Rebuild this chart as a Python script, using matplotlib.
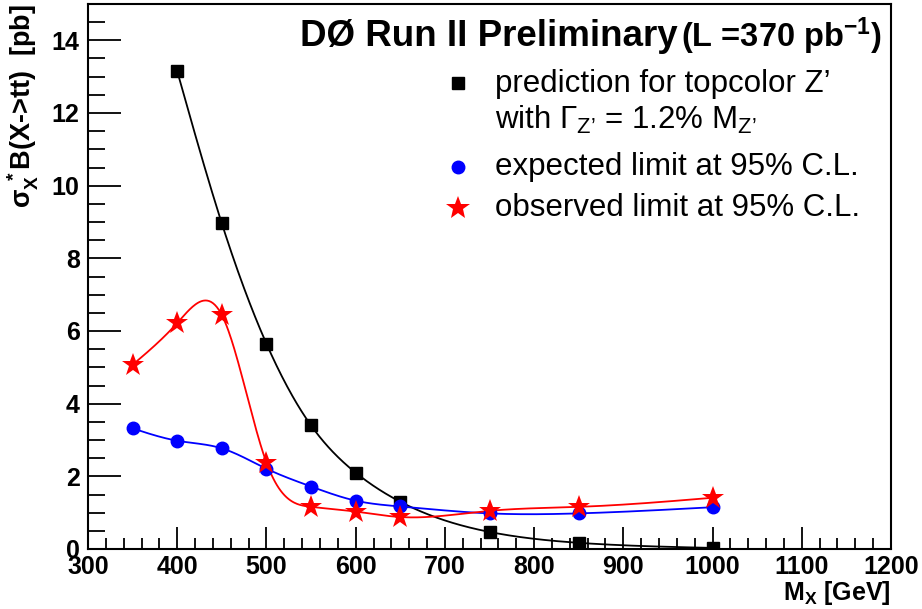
import numpy as np
import matplotlib
matplotlib.use('Agg')
import matplotlib.pyplot as plt
from matplotlib.ticker import MultipleLocator

plt.rcParams['font.family'] = ['Liberation Sans', 'DejaVu Sans']
plt.rcParams['mathtext.fontset'] = 'custom'
plt.rcParams['mathtext.rm'] = 'Liberation Sans'
plt.rcParams['mathtext.it'] = 'Liberation Sans'
plt.rcParams['mathtext.bf'] = 'Liberation Sans:bold'

# data
mass_pred = [400, 450, 500, 550, 600, 650, 750, 850, 1000]
xsec_pred = [13.15, 8.96, 5.65, 3.40, 2.10, 1.30, 0.47, 0.17, 0.03]

mass_lim = [350, 400, 450, 500, 550, 600, 650, 750, 850, 1000]
xsec_exp = [3.32, 2.98, 2.77, 2.21, 1.72, 1.33, 1.17, 0.98, 0.98, 1.15]
xsec_obs = [5.07, 6.22, 6.44, 2.38, 1.16, 1.03, 0.88, 1.05, 1.16, 1.41]

x_label_string = r'M$_{\mathregular{X}}$ [GeV]'
y_label_string = r'$\mathregular{\sigma_X^{\ *}}$B(X->tt)  [pb]'

#natural cubic spline, used to draw the smooth curve through the points
def natural_spline(t, y, tt):
    t = np.array(t, float); y = np.array(y, float)
    n = len(t)
    h = np.diff(t)
    A = np.zeros((n, n))
    b = np.zeros(n)
    A[0, 0] = 1
    A[-1, -1] = 1
    for i in range(1, n-1):
        A[i, i-1] = h[i-1]
        A[i, i] = 2*(h[i-1] + h[i])
        A[i, i+1] = h[i]
        b[i] = 6*((y[i+1]-y[i])/h[i] - (y[i]-y[i-1])/h[i-1])
    M = np.linalg.solve(A, b)
    idx = np.clip(np.searchsorted(t, tt) - 1, 0, n-2)
    t0 = t[idx]; t1 = t[idx+1]; hh = t1 - t0
    a = (t1 - tt)/hh
    c = (tt - t0)/hh
    return (a*y[idx] + c*y[idx+1]
            + ((a**3 - a)*M[idx] + (c**3 - c)*M[idx+1])*hh**2/6)

def smooth_curve(x, y, num=600):
    xs = np.linspace(min(x), max(x), num)
    return xs, natural_spline(x, y, xs)

fig = plt.figure(figsize=(9.22, 6.09), dpi=100)
ax = fig.add_axes([88/922, 60/609, 803/922, 545/609])

xs, ys = smooth_curve(mass_pred, xsec_pred)
ax.plot(xs, ys, '-', color='k', lw=1.3, zorder=2)
xs, ys = smooth_curve(mass_lim, xsec_exp)
ax.plot(xs, ys, '-', color='b', lw=1.3, zorder=2)
xs, ys = smooth_curve(mass_lim, xsec_obs)
ax.plot(xs, ys, '-', color='r', lw=1.3, zorder=2)

ax.plot(mass_pred, xsec_pred, 's', color='k', ms=9, ls='none', zorder=3)
ax.plot(mass_lim, xsec_exp, 'o', color='b', ms=9, ls='none', zorder=3)
ax.plot(mass_lim, xsec_obs, '*', color='r', ms=17, ls='none', mew=0, zorder=4)

ax.set_xlim(300, 1200)
ax.set_ylim(0, 15)
ax.xaxis.set_major_locator(MultipleLocator(100))
ax.xaxis.set_minor_locator(MultipleLocator(20))
ax.yaxis.set_major_locator(MultipleLocator(2))
ax.yaxis.set_minor_locator(MultipleLocator(0.5))
ax.tick_params(axis='both', which='both', direction='in', top=False, right=False,
               width=1.3, labelsize=18)
ax.tick_params(axis='x', which='major', length=16, pad=4)
ax.tick_params(axis='x', which='minor', length=8)
ax.tick_params(axis='y', which='major', length=24, pad=6)
ax.tick_params(axis='y', which='minor', length=12)
for lab in ax.get_xticklabels() + ax.get_yticklabels():
    lab.set_fontweight('bold')
for sp in ax.spines.values():
    sp.set_linewidth(1.5)

ax.set_xlabel(x_label_string, fontsize=18, fontweight='bold', loc='right', labelpad=0)
ax.set_ylabel(y_label_string, fontsize=19.5, fontweight='bold', loc='top', labelpad=8)

# header
fig.text(300/922, 1 - 36/609, 'DØ Run II Preliminary', fontsize=26.5, fontweight='bold',
         va='center', ha='left')
fig.text(681/922, 1 - 36/609, r'(L =370 pb$^{\mathbf{-1}}$)', fontsize=23.5, fontweight='bold',
         va='center', ha='left')

# legend drawn by hand, ROOT style
leg_x = 458/922
txt_x = 495/922
fig.lines.append(plt.Line2D([leg_x], [1 - 83/609], marker='s', color='k', ms=9,
                            ls='none', transform=fig.transFigure))
fig.lines.append(plt.Line2D([leg_x], [1 - 167/609], marker='o', color='b', ms=9,
                            ls='none', transform=fig.transFigure))
fig.lines.append(plt.Line2D([leg_x], [1 - 208/609], marker='*', color='r', ms=18,
                            mew=0, ls='none', transform=fig.transFigure))
fig.text(txt_x, 1 - 84/609, 'prediction for topcolor Z’', fontsize=22.5, va='center')
fig.text(txt_x, 1 - 120/609, r'with $\Gamma_{\mathregular{Z’}}$ = 1.2% M$_{\mathregular{Z’}}$',
         fontsize=22.5, va='center')
fig.text(txt_x, 1 - 167/609, 'expected limit at 95% C.L.', fontsize=22.5, va='center')
fig.text(txt_x, 1 - 208/609, 'observed limit at 95% C.L.', fontsize=22.5, va='center')

plt.savefig('out.png', dpi=100)
